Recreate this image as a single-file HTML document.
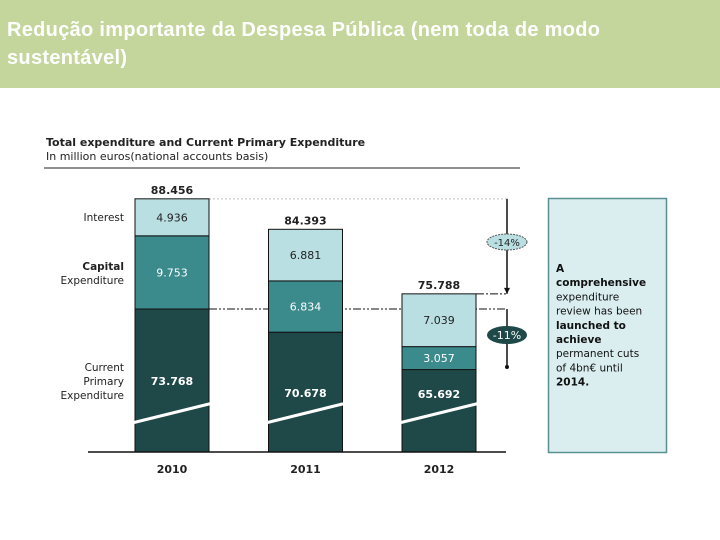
<!DOCTYPE html>
<html><head><meta charset="utf-8">
<style>
html,body{margin:0;padding:0;width:720px;height:540px;background:#fff;overflow:hidden;font-family:"Liberation Sans",sans-serif}
#hdr{position:absolute;left:0;top:0;width:720px;height:88px;background:#c4d69c}
#hdr div{position:absolute;left:7px;top:16px;color:#fff;font-size:20px;font-weight:bold;line-height:28px;letter-spacing:0.3px}
svg{position:absolute;left:0;top:0}
</style></head><body>
<div id="hdr"><div>Redução importante da Despesa Pública (nem toda de modo<br>sustentável)</div></div>
<svg id="c" width="720" height="540"></svg>
<script>
const years=["2010","2011","2012"];
const current=[73768,70678,65692];
const capital=[9753,6834,3057];
const interest=[4936,6881,7039];
const totals=["88.456","84.393","75.788"];
const curLbl=["73.768","70.678","65.692"];
const capLbl=["9.753","6.834","3.057"];
const intLbl=["4.936","6.881","7.039"];
const NS="http://www.w3.org/2000/svg";
const svg=document.getElementById('c');
const base=452,off=54700,k=0.0075;
function y(v){return base-(v-off)*k;}
function x(i){return 135+i*133.5;}
const bw=74;
function el(t,a,p){const e=document.createElementNS(NS,t);for(const n in a)e.setAttribute(n,a[n]);(p||svg).appendChild(e);return e;}
function txt(s,xx,yy,a){const e=el('text',Object.assign({x:xx,y:yy,'text-anchor':'middle','font-size':11,'font-family':'"DejaVu Sans",sans-serif'},a||{}));e.textContent=s;return e;}
let t=txt("Total expenditure and Current Primary Expenditure",46,146,{'text-anchor':'start','font-weight':'bold','font-size':11,fill:'#222'});

t=txt("In million euros(national accounts basis)",46,160,{'text-anchor':'start','font-size':11,fill:'#222'});

el('line',{x1:44,y1:168,x2:520,y2:168,stroke:'#222','stroke-width':1});
const cl=[["Interest",221,false],["Capital",270,true],["Expenditure",284,false],["Current",371,false],["Primary",385,false],["Expenditure",399,false]];
cl.forEach(c=>{const e=txt(c[0],124,c[1],{'text-anchor':'end','font-size':10.5,fill:'#222','font-weight':c[2]?'bold':'normal'});});
const y0=y(current[0]+capital[0]+interest[0]);
el('line',{x1:x(0)+bw,y1:y0,x2:506,y2:y0,stroke:'#bbb','stroke-width':1,'stroke-dasharray':'2,2'});
const yc=y(current[0]);
el('line',{x1:x(0)+bw,y1:yc,x2:506,y2:yc,stroke:'#111','stroke-width':1,'stroke-dasharray':'8,2,2,2,2,2'});
const y2=y(current[2]+capital[2]+interest[2]);
el('line',{x1:x(2)+bw,y1:y2,x2:506,y2:y2,stroke:'#111','stroke-width':1,'stroke-dasharray':'8,2,2,2'});
for(let i=0;i<3;i++){
 const X=x(i);const c=current[i],cp=c+capital[i],tt=cp+interest[i];
 let r=el('rect',{x:X,y:y(c),width:bw,height:base-y(c),fill:'#1f4848',stroke:'#111','stroke-width':1});
 
 r=el('rect',{x:X,y:y(cp),width:bw,height:y(c)-y(cp),fill:'#3b8b8d',stroke:'#111','stroke-width':1});
 
 r=el('rect',{x:X,y:y(tt),width:bw,height:y(cp)-y(tt),fill:'#b9dfe3',stroke:'#111','stroke-width':1});
 
 el('line',{x1:X-3,y1:423,x2:X+bw+4,y2:403,stroke:'#fff','stroke-width':3});
 const cx=X+bw/2;
 txt(totals[i],cx,y(tt)-5,{'font-weight':'bold',fill:'#222'});
 txt(intLbl[i],cx,(y(tt)+y(cp))/2+4,{fill:'#222'});
 txt(capLbl[i],cx,(y(cp)+y(c))/2+4,{fill:'#fff'});
 txt(curLbl[i],cx,[385,397,398][i],{fill:'#fff','font-weight':'bold'});
 const yl=txt(years[i],cx,473,{'font-weight':'bold',fill:'#222'});
 
}
el('line',{x1:88,y1:452,x2:506,y2:452,stroke:'#111','stroke-width':1.5});
el('line',{x1:507,y1:y0,x2:507,y2:y2,stroke:'#111','stroke-width':1.5});
el('polygon',{points:`504,${y2-6} 510,${y2-6} 507,${y2}`,fill:'#111'});
el('line',{x1:507,y1:yc,x2:507,y2:367,stroke:'#111','stroke-width':1.5});
el('circle',{cx:507,cy:367,r:2,fill:'#111'});
let e1=el('ellipse',{cx:507,cy:242,rx:20,ry:8,fill:'#b9dfe3',stroke:'#555','stroke-width':1,'stroke-dasharray':'2,1'});

txt("-14%",507,246,{fill:'#222','font-size':10});
let e2=el('ellipse',{cx:507,cy:335,rx:20,ry:9,fill:'#1f4848'});

txt("-11%",507,339,{fill:'#fff','font-size':11});
const nb=el('rect',{x:548.5,y:198.5,width:118,height:254,fill:'#daeef0',stroke:'#5a9090','stroke-width':1.5});

const lines=[["A",true],["comprehensive",true],["expenditure",false],["review has been",false],["launched to",true],["achieve",true],["permanent cuts",false],["of 4bn€ until",false],["2014.",true]];
lines.forEach((l,i)=>txt(l[0],556,272+i*14.2,{'text-anchor':'start','font-size':10.5,fill:'#111','font-weight':l[1]?'bold':'normal'}));
</script>
</body></html>
